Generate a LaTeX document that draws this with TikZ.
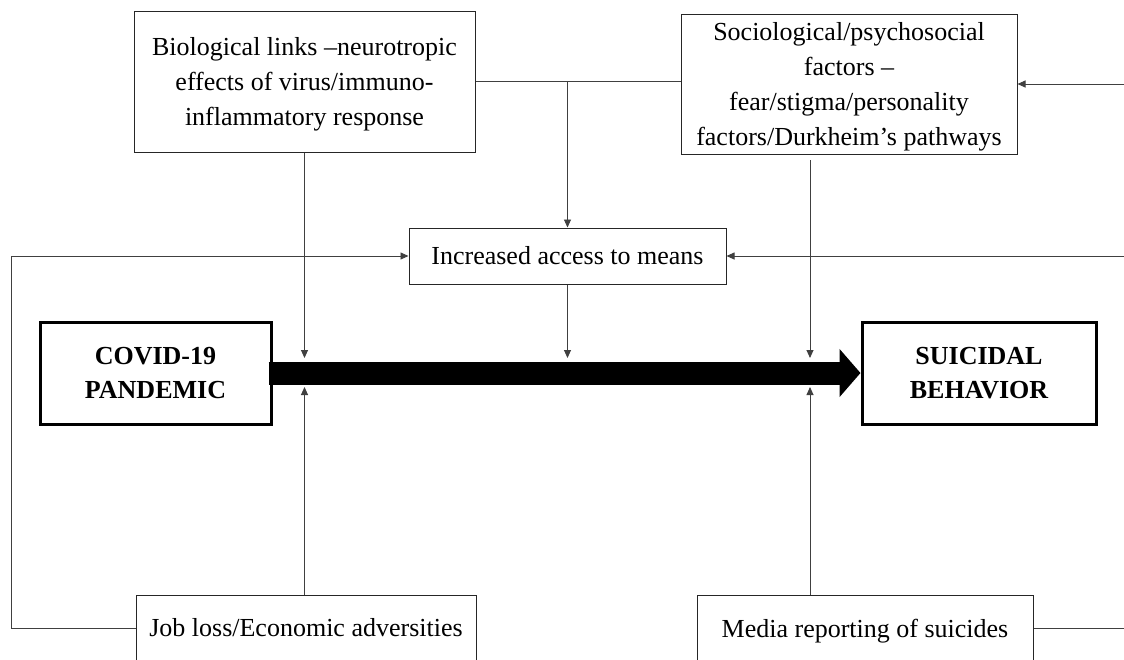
\documentclass[tikz,border=0pt]{standalone}
\usepackage{fontspec}
\setmainfont{Liberation Serif}
\usetikzlibrary{arrows.meta}
\begin{document}
\begin{tikzpicture}[x=1pt,y=-1pt,
  box/.style={draw=black!85, line width=1pt, inner sep=0pt, align=center, font=\fontsize{26}{35}\selectfont},
  boldbox/.style={draw=black, line width=3pt, inner sep=0pt, align=center, font=\fontsize{26}{34}\selectfont\bfseries},
  conn/.style={draw=black!75, line width=0.9pt},
  arr/.style={conn, -{Triangle[length=8pt,width=7pt]}},
  bigarrow/.style={draw=black, line width=23pt, -{Triangle[length=21pt,width=47pt]}}
]
\useasboundingbox (0,0) rectangle (1124,659);
\fill[white] (0,0) rectangle (1124,659);
\clip (0,0) rectangle (1124,659);

\node[box, minimum width=341pt, minimum height=141pt, text depth=0pt] (bio) at (304.5,81.5)
  {Biological links –neurotropic\\effects of virus/immuno-\\inflammatory response};
\node[box, minimum width=336pt, minimum height=140pt, text depth=-4pt] (socio) at (849,84)
  {Sociological/psychosocial\\factors –\\fear/stigma/personality\\factors/Durkheim’s pathways};
\node[box, minimum width=317pt, minimum height=56pt] (access) at (567.5,256)
  {Increased access to means};
\node[boldbox, minimum width=231pt, minimum height=102pt] (covid) at (155.5,373)
  {COVID-19\\PANDEMIC};
\node[boldbox, minimum width=234pt, minimum height=102pt] (suicidal) at (979,373)
  {SUICIDAL\\BEHAVIOR};
\node[box, minimum width=340pt, minimum height=66pt] (job) at (306,628)
  {Job loss/Economic adversities};
\node[box, minimum width=336pt, minimum height=66pt, text depth=0pt] (media) at (865,628)
  {Media reporting of suicides};

\coordinate (barN) at (0,358);
\coordinate (barS) at (0,387);
\coordinate (sv) at (810,160);
\coordinate (L) at (11,256);
\coordinate (R1) at (1124,84);
\coordinate (R2) at (1124,256);
\coordinate (R3) at (1124,628);

\draw[conn] (bio.east) -- (bio.east -| socio.west);
\draw[arr] (bio.east -| access.north) -- (access.north);
\draw[arr] (bio.south) -- (bio.south |- barN);
\draw[arr] (access.south) -- (access.south |- barN);
\draw[arr] (sv) -- (sv |- barN);
\draw[arr] (bio.south |- job.north) -- (bio.south |- barS);
\draw[arr] (sv |- media.north) -- (sv |- barS);
\draw[arr] (job.west) -| (L) -- (access.west);
\draw[arr] (R2) -- (access.east);
\draw[arr] (R1) -- (socio.east);
\draw[conn] (media.east) -- (R3);

\draw[bigarrow, shorten <=-4pt] (covid.east) -- (suicidal.west);
\end{tikzpicture}
\end{document}
